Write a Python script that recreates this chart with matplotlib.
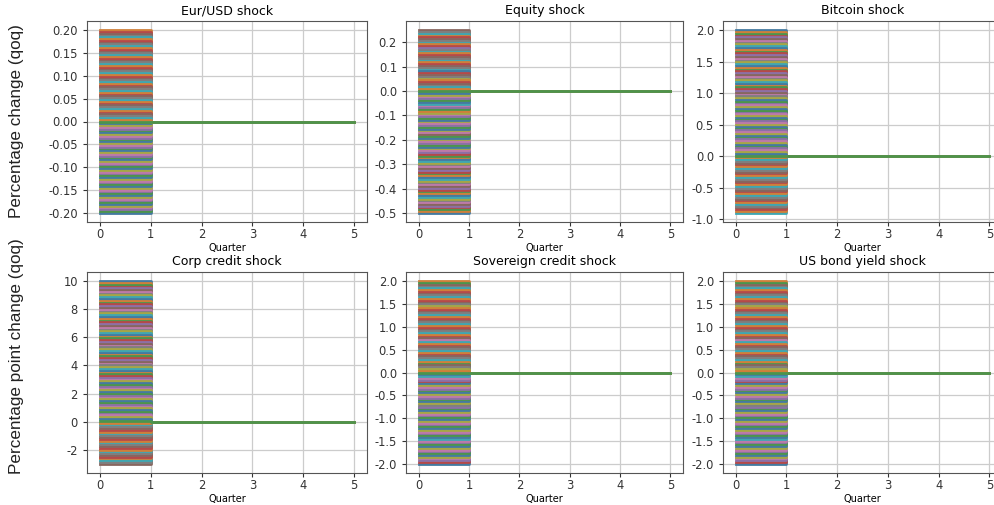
import matplotlib
matplotlib.use("Agg")
import matplotlib.pyplot as plt
import matplotlib.colors as mcolors
import numpy as np

# shock scenarios: each line jumps to the shock size for the first quarter, then returns to 0
titles = ['Eur/USD shock', 'Equity shock', 'Bitcoin shock',
          'Corp credit shock', 'Sovereign credit shock', 'US bond yield shock']
shock_low = [-0.20, -0.50, -0.90, -3.0, -2.0, -2.0]
shock_high = [0.20, 0.25, 2.00, 10.0, 2.0, 2.0]
n_scenarios = [103, 103, 103, 103, 103, 103]
quarters = [0, 1, 2, 3, 4, 5]
after_shock = [0, 0, 0, 0, 0]  # response in quarters 1..5
yticks = [
    [-0.20, -0.15, -0.10, -0.05, 0.00, 0.05, 0.10, 0.15, 0.20],
    [-0.5, -0.4, -0.3, -0.2, -0.1, 0.0, 0.1, 0.2],
    [-1.0, -0.5, 0.0, 0.5, 1.0, 1.5, 2.0],
    [-2, 0, 2, 4, 6, 8, 10],
    [-2.0, -1.5, -1.0, -0.5, 0.0, 0.5, 1.0, 1.5, 2.0],
    [-2.0, -1.5, -1.0, -0.5, 0.0, 0.5, 1.0, 1.5, 2.0],
]
ytick_fmt = ['%.2f', '%.1f', '%.1f', '%d', '%.1f', '%.1f']
row_labels = ['Percentage change (qoq)', 'Percentage point change (qoq)']

W, H = 995, 505
fig = plt.figure(figsize=(W / 100, H / 100), dpi=100)

# axes boxes in pixels: left, right, top, bottom
col_lr = [(87, 367), (406, 683), (723, 1002)]
row_tb = [(21, 222), (272, 473)]

# muted version of the default cycle
grey = np.array([0.5, 0.5, 0.5])
colors = [0.62 * np.array(mcolors.to_rgb(c)) + 0.38 * grey
          for c in plt.rcParams['axes.prop_cycle'].by_key()['color']]

for k in range(6):
    r, c = divmod(k, 3)
    l, rr = col_lr[c]
    t, b = row_tb[r]
    ax = fig.add_axes([l / W, 1 - b / H, (rr - l) / W, (b - t) / H])
    shocks = np.linspace(shock_low[k], shock_high[k], n_scenarios[k])
    # biggest shocks first so each drop at quarter 1 keeps its own colour
    shocks = sorted(shocks, key=lambda v: -abs(v))
    for i, v in enumerate(shocks):
        ax.plot(quarters, [v] + after_shock, drawstyle='steps-post',
                color=colors[i % len(colors)], lw=2.0)
    ax.set_title(titles[k], fontsize=9, pad=5)
    ax.set_xlabel('Quarter', fontsize=7, labelpad=2)
    ax.set_yticks(yticks[k])
    ax.yaxis.set_major_formatter(matplotlib.ticker.FormatStrFormatter(ytick_fmt[k]))
    ax.set_xticks(quarters)
    ax.tick_params(labelsize=8.3, colors='#333333', length=3)
    ax.tick_params(axis='x', pad=1)
    ax.grid(True, color='#cccccc', lw=0.9)
    for s in ax.spines.values():
        s.set_color('#555555')

fig.text(17 / W, 1 - 121 / H, row_labels[0], rotation=90, ha='center', va='center',
         fontsize=12.3, family='Liberation Sans', color='#222222')
fig.text(17 / W, 1 - 356 / H, row_labels[1], rotation=90, ha='center', va='center',
         fontsize=12.3, family='Liberation Sans', color='#222222')

fig.savefig('out.png', dpi=100)
